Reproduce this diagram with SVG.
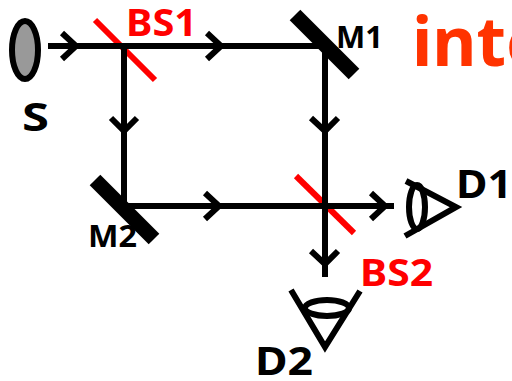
<svg xmlns="http://www.w3.org/2000/svg" width="512" height="381" viewBox="0 0 512 381">
<style>
text{font-family:"Noto Sans","Open Sans",sans-serif;font-weight:700}
.b{fill:none;stroke:#000;stroke-width:6}
.r{fill:none;stroke:#f00;stroke-width:6}
.m{fill:none;stroke:#000;stroke-width:15}
.lr{font-size:37px;fill:#f00}
.lb{font-size:39px;fill:#000}
.lm{font-size:31px;fill:#000}
</style>
<g id="S"><ellipse cx="25" cy="50" rx="13" ry="29" fill="#999" stroke="#000" stroke-width="6"/><text class="lb" x="22" y="131" textLength="27" lengthAdjust="spacingAndGlyphs">S</text></g>
<g id="BS1"><path class="r" d="M95 20L155 80"/><text class="lr" x="126" y="36" textLength="71" lengthAdjust="spacingAndGlyphs">BS1</text></g>
<g id="M1"><path class="m" d="M295 15L354 74"/><text class="lm" x="336" y="48" textLength="47" lengthAdjust="spacingAndGlyphs">M1</text></g>
<g id="M2"><path class="m" d="M95 180L154 239"/><text class="lm" x="88" y="247" textLength="49" lengthAdjust="spacingAndGlyphs">M2</text></g>
<g id="BS2"><path class="r" d="M296 176L354 233"/><text class="lr" x="360" y="286" textLength="73" lengthAdjust="spacingAndGlyphs">BS2</text></g>
<g id="D1"><path class="b" d="M405 236L456 207L406 181"/><ellipse class="b" cx="417" cy="207" rx="8" ry="22"/><text class="lb" x="456" y="198" textLength="56" lengthAdjust="spacingAndGlyphs">D1</text></g>
<g id="D2"><path class="b" d="M291 290L325 347L360 291"/><ellipse class="b" cx="327" cy="308" rx="22" ry="8"/><text class="lb" x="255" y="375" textLength="58" lengthAdjust="spacingAndGlyphs">D2</text></g>
<g id="connectors">
<path class="b" d="M48 46H325V277M124 46V206M124 206H394"/>
<path class="b" d="M62 33L76 46L62 59M207 33L221 46L207 59M111 118L124 131L137 118M311 118L325 131L338 118M205 193L219 206L205 219M371 193L385 206L371 219M311 251L325 264L338 251"/>
</g>
<text x="412" y="66" font-size="68" fill="#ff3300">inte</text>
</svg>
